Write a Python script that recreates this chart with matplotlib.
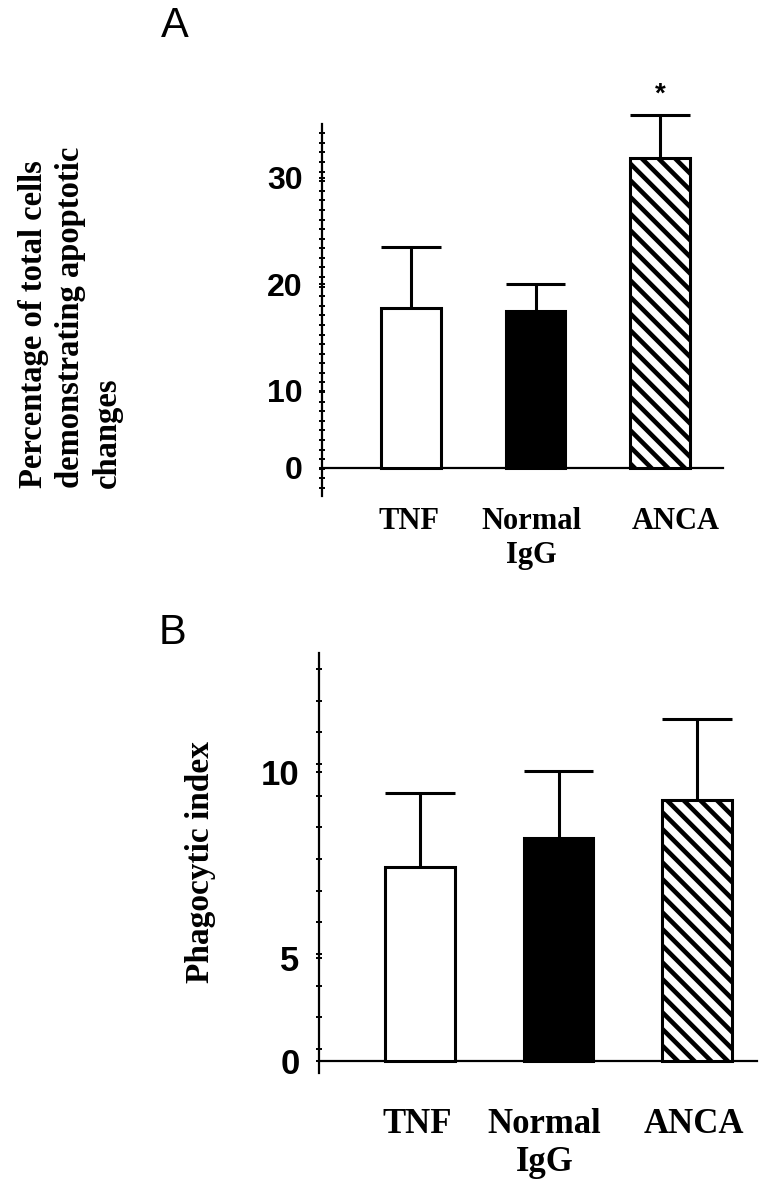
import matplotlib
matplotlib.use('Agg')
import numpy as np
import matplotlib.pyplot as plt
from matplotlib.ticker import MultipleLocator, FixedLocator

plt.rcParams['hatch.linewidth'] = 3.3

groups = ['TNF', 'Normal\nIgG', 'ANCA']

# A: percentage of apoptotic cells (read against the 10/20/30 marks)
apop_mean = [17.8, 17.5, 31.9]
apop_err = [5.7, 2.5, 4.0]
apop_base = 2.77          # the baseline that the original labels "0"
apop_ticks = [apop_base, 10, 20, 30]
apop_ticklabels = ['0', '10', '20', '30']

# B: phagocytic index
phago_mean = [7.45, 8.22, 9.24]
phago_err = [1.97, 1.80, 2.17]
phago_base = 2.23
phago_ticks = [phago_base, 5, 10]
phago_ticklabels = ['0', '5', '10']

faces = ['white', 'black', 'white']
hatches = ['', '', '\\\\']

SERIF = 'Liberation Serif'
SANS = 'Liberation Sans'
W, H = 777, 1199


def draw_panel(ax, means, errs, base, width, ticks, ticklabels, ylim, xlim,
               minor_step, tick_fs, label_fs, label_dx, label_y):
    x = np.arange(len(means))
    bars = ax.bar(x, np.array(means) - base, width, bottom=base, color=faces,
                  edgecolor='black', linewidth=2.2, zorder=3)
    for b, h in zip(bars, hatches):
        b.set_hatch(h)
    tops = np.array(means) + np.array(errs)
    ax.vlines(x, means, tops, color='black', lw=2.2, clip_on=False, zorder=2)
    ax.hlines(tops, x - width / 2, x + width / 2, color='black', lw=2.2,
              clip_on=False, zorder=2)

    ax.set_xlim(*xlim)
    ax.set_ylim(*ylim)
    for s in ['top', 'right']:
        ax.spines[s].set_visible(False)
    ax.spines['bottom'].set_position(('data', base))
    ax.spines['left'].set_linewidth(1.6)
    ax.spines['bottom'].set_linewidth(1.6)
    ax.set_xticks([])

    ax.yaxis.set_major_locator(FixedLocator(ticks))
    ax.set_yticklabels(ticklabels, fontfamily=SANS, fontweight='bold',
                       fontsize=tick_fs)
    ax.yaxis.set_minor_locator(MultipleLocator(minor_step))
    ax.tick_params(axis='y', which='both', direction='inout', length=4,
                   width=1.4)
    ax.tick_params(axis='y', which='major', pad=12)

    for i, lab in enumerate(groups):
        ax.text(i + label_dx[i], label_y, lab, transform=ax.get_xaxis_transform(),
                ha='center', va='top', fontfamily=SERIF, fontweight='bold',
                fontsize=label_fs, linespacing=1.2)
    return tops


fig = plt.figure(figsize=(W / 100, H / 100), dpi=100)

# panel A
axA = fig.add_axes([322 / W, 1 - 496 / H, 401 / W, 372 / H])
topsA = draw_panel(axA, apop_mean, apop_err, apop_base, 0.48,
                   apop_ticks, apop_ticklabels, (0.14, 35.07), (-0.715, 2.506),
                   0.9, 23, 22, [-0.02, -0.03, 0.13], -0.03)
axA.annotate('*', xy=(2, topsA[2]), xytext=(0, 10), textcoords='offset points',
             ha='center', va='baseline', fontsize=20, fontfamily=SANS,
             fontweight='bold', annotation_clip=False)

fig.text(18 / W, 1 - 488 / H,
         'Percentage of total cells\ndemonstrating apoptotic\nchanges',
         rotation=90, ha='left', va='bottom', multialignment='left',
         fontfamily=SERIF, fontweight='bold', fontsize=23.5, linespacing=1.25)
fig.text(175 / W, 1 - 26 / H, 'A', ha='center', va='center',
         fontfamily=SANS, fontsize=30)

# panel B
axB = fig.add_axes([319 / W, 1 - 1073 / H, 438 / W, 420 / H])
draw_panel(axB, phago_mean, phago_err, phago_base, 0.5,
           phago_ticks, phago_ticklabels, (1.91, 13.18), (-0.729, 2.433),
           0.85, 25, 25, [-0.02, -0.1, -0.02], -0.083)

fig.text(200 / W, 1 - 862 / H, 'Phagocytic index', rotation=90,
         ha='center', va='center', fontfamily=SERIF, fontweight='bold',
         fontsize=24)
fig.text(172 / W, 1 - 633 / H, 'B', ha='center', va='center',
         fontfamily=SANS, fontsize=30)

fig.savefig('out.png', dpi=100)
